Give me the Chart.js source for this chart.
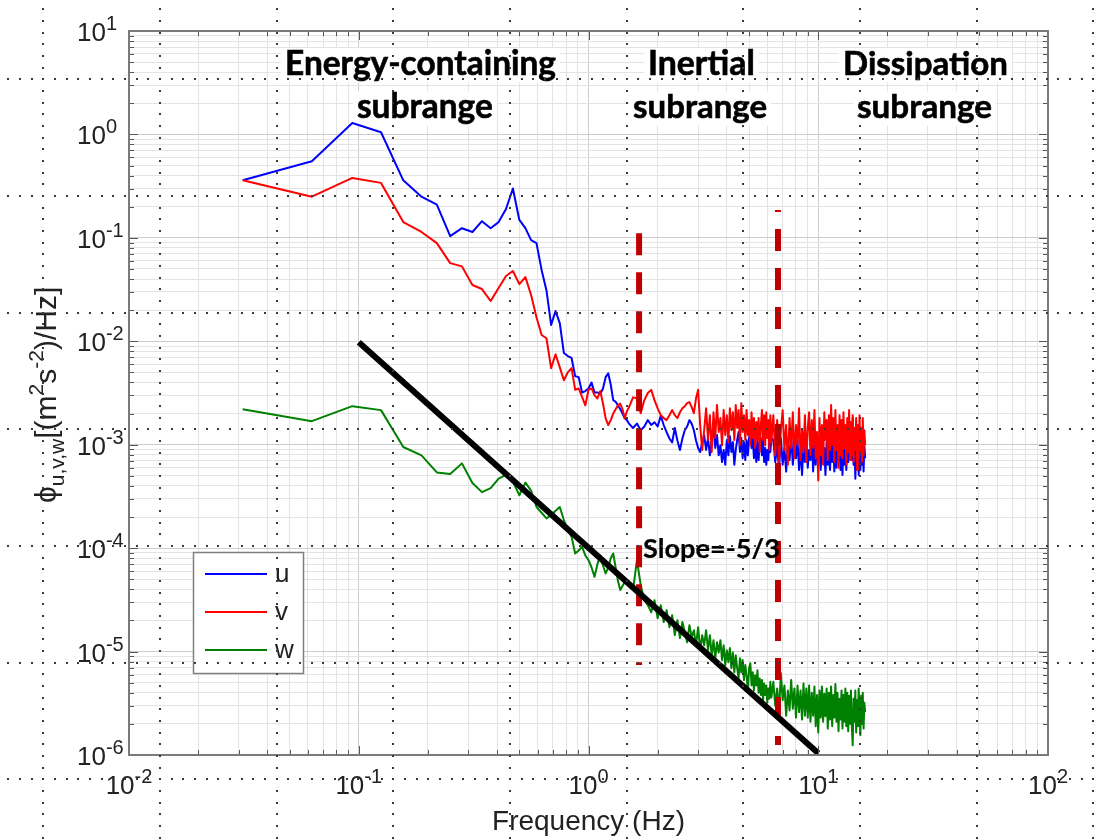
<!DOCTYPE html>
<html>
<head>
<meta charset="utf-8">
<script src="https://cdn.jsdelivr.net/npm/chart.js@4.4.1/dist/chart.umd.min.js"></script>
<style>
html,body{margin:0;padding:0;background:#fff;}
#c{display:block;}
</style>
</head>
<body>
<canvas id="c" width="1097" height="840"></canvas>
<script>
// ---------------- DATA ----------------
const binWidthHz = 1 / 32; // spectral resolution (Hz): frequency = bin * binWidthHz
const bins = [
  1,2,3,4,5,6,7,8,9,10,11,12,13,14,15,16,17,18,19,20,21,22,23,24,25,26,27,28,29,30,31,32,
  33,34,35,36,37,38,39,40,41,42,43,44,45,46,47,48,
  50,52,54,56,58,60,62,64,66,68,70,72,74,76,78,80,82,84,86,88,90,92,94,96,98,100,
  102,104,106,108,110,112,114,116,118,120,122,124,126,128,130,132,134,136,138,140,
  142,144,146,148,150,152,154,156,158,160,162,164,166,168,170,172,174,176,178,180,
  182,184,186,188,190,192,194,196,198,200,
  204,208,212,216,220,224,228,232,236,240,244,248,252,256,260,264,268,272,276,280,
  284,288,292,296,300,304,308,312,316,320,324,328,332,336,340,344,348,352,356,360,
  364,368,372,376,380,384,388,392,396,400,404,408,412,416,420,424,428,432,436,440,
  444,448,452,456,460,464,468,472,476,480,484,488,492,496,500,504,508,512
];
const uValues = [
  0.36,0.55,1.29,1.05,0.36,0.25,0.21,0.104,0.124,0.114,0.145,0.124,0.142,0.19,0.30,0.149,
  0.124,0.095,0.089,0.049,0.031,0.0144,0.0196,0.015,0.0077,0.0072,0.0069,0.0046,0.0045,0.0032,0.0033,0.0035,
  0.0040,0.0032,0.0032,0.0031,0.0035,0.0045,0.0049,0.0038,0.0027,0.0026,0.0024,0.0022,0.0020,0.0018,0.00173,0.0016,
  0.00145,0.0016,0.00138,0.0015,0.00173,0.00155,0.00165,0.0015,0.0019,0.00155,0.00132,0.00115,0.00105,
  0.00145,0.0011,0.00089,0.00115,0.00138,0.0015,0.00173,0.0016,0.00138,0.0011,0.00093,0.00085,0.00105,
  0.00124,0.00089,0.00116,0.00079,0.00111,0.00145,0.00093,0.00124,0.00079,0.00099,
  0.00068,0.00089,0.00064,0.00111,0.00079,0.00121,0.00085,0.00106,0.00064,0.00089,
  0.00111,0.00133,0.00085,0.00116,0.00074,0.00106,0.00071,0.00111,0.00079,0.00116,
  0.00138,0.00093,0.00116,0.00074,0.00099,0.00068,0.00111,0.00071,0.00106,0.00116,
  0.00079,0.00111,0.00068,0.00093,0.00064,0.00089,0.00071,0.00111,0.00085,0.00116,
  0.00111,0.00068,0.00099,0.00057,0.00116,0.00064,0.00093,0.00055,0.00106,0.00071,
  0.00124,0.00064,0.00099,0.00074,0.00111,0.00057,0.00093,0.00051,0.00099,0.00068,
  0.00116,0.0006,0.00089,0.00071,0.00124,0.00055,0.00099,0.00064,0.00111,0.00074,
  0.00099,0.00057,0.00116,0.00068,0.00093,0.00051,0.00106,0.00064,0.00089,0.00057,
  0.00111,0.00068,0.00099,0.00055,0.00116,0.0006,0.00089,0.00071,0.00106,0.00057,
  0.00093,0.00051,0.00111,0.00064,0.00099,0.00057,0.00116,0.00068,0.00138,0.00079,
  0.00155,0.00071,0.00181,0.00064,0.00111,0.00047,0.00089,0.0006,0.00099,0.00051,
  0.00106,0.00057,0.00093,0.00064,0.00116,0.00055,0.00099,0.00074
];
const vValues = [
  0.36,0.25,0.38,0.34,0.142,0.114,0.089,0.057,0.053,0.035,0.032,0.0245,0.0327,0.0428,0.0478,0.0357,
  0.0418,0.028,0.0171,0.0115,0.0107,0.0055,0.0075,0.0056,0.0042,0.0050,0.0055,0.0034,0.0035,0.0029,0.0024,0.0034,
  0.0035,0.0030,0.0028,0.0033,0.0025,0.0018,0.00155,0.00173,0.0020,0.0022,0.0024,0.0025,0.0022,0.0018,0.0021,0.0023,
  0.00287,0.00281,0.00202,0.0027,0.00316,0.00339,0.0027,0.00225,0.00193,0.00181,0.00173,0.00193,0.00216,
  0.00193,0.00181,0.00206,0.00225,0.00236,0.00252,0.00258,0.00231,0.00202,0.00281,0.00339,0.00155,0.00089,
  0.00138,0.00225,0.00111,0.00193,0.00085,0.00206,0.00116,0.00242,0.00133,0.00181,
  0.00099,0.00216,0.00124,0.00193,0.00106,0.00225,0.00138,0.00206,0.00111,0.00242,
  0.00145,0.00216,0.00099,0.00252,0.00133,0.00193,0.00111,0.00216,0.00124,0.00173,
  0.00099,0.00206,0.00116,0.00181,0.00093,0.00166,0.00111,0.00181,0.00085,0.00155,
  0.00216,0.00111,0.00193,0.00099,0.00206,0.00116,0.00173,0.00089,0.00193,0.00106,
  0.00193,0.00079,0.00173,0.00068,0.00138,0.00216,0.00089,0.00155,0.00064,0.00181,
  0.00093,0.00206,0.00074,0.00155,0.00099,0.00225,0.00071,0.00138,0.00085,0.00193,
  0.00068,0.00145,0.00206,0.00079,0.00173,0.00093,0.00216,0.00074,0.00133,0.00045,
  0.00181,0.00079,0.00155,0.00064,0.00206,0.00111,0.00173,0.00071,0.00193,0.00089,
  0.00242,0.00099,0.00181,0.00068,0.00216,0.00089,0.00155,0.0006,0.00193,0.00079,
  0.00173,0.00074,0.00206,0.00093,0.00155,0.00064,0.00181,0.00085,0.00216,0.00071,
  0.00166,0.00079,0.00193,0.00068,0.00145,0.00089,0.00181,0.00057,0.00155,0.00074,
  0.00193,0.00085,0.00145,0.00068,0.00181,0.00079,0.00138,0.00099
];
const wValues = [
  0.0022,0.00169,0.00236,0.00216,0.00095,0.00079,0.00054,0.00052,0.00066,0.000426,0.000348,0.00038,0.00047,0.00051,0.00044,0.000325,
  0.00043,0.00036,0.00025,0.00022,0.000194,0.000208,0.00023,0.00025,0.000187,0.00015,0.000129,0.0000889,0.000095,0.000103,0.000085,0.0000766,
  0.000065,0.0000528,0.00007,0.0000855,0.000068,0.0000569,0.000065,0.00008,0.0000889,0.000065,0.000048,0.0000393,0.000043,0.000047,0.000049,0.000043,
  3.93e-5,7.66e-5,4.4e-5,3.14e-5,2.81e-5,2.4e-5,3.14e-5,2.1e-5,2.81e-5,1.93e-5,2.51e-5,1.72e-5,2.25e-5,
  1.44e-5,2.01e-5,1.35e-5,1.93e-5,1.54e-5,1.23e-5,1.8e-5,1.38e-5,1.61e-5,1.15e-5,1.72e-5,1.03e-5,1.44e-5,
  1.15e-5,1.61e-5,1.03e-5,1.44e-5,9.2e-6,1.29e-5,8.6e-6,1.23e-5,9.8e-6,1.29e-5,
  8.3e-6,1.15e-5,7.4e-6,1.03e-5,7.9e-6,1.08e-5,6.9e-6,9.8e-6,6.3e-6,9.2e-6,
  6.9e-6,5.5e-6,8.6e-6,6.3e-6,8.3e-6,5.3e-6,7.4e-6,5.9e-6,4.2e-6,6.9e-6,
  7.7e-6,4.7e-6,6.3e-6,4.2e-6,5.9e-6,4.7e-6,6.6e-6,4.0e-6,5.5e-6,3.8e-6,
  5.3e-6,3.4e-6,4.9e-6,3.8e-6,4.7e-6,3.2e-6,4.4e-6,3.5e-6,5.1e-6,3.6e-6,
  5.1e-6,3.0e-6,4.4e-6,2.6e-6,6.2e-6,3.4e-6,4.7e-6,2.4e-6,4.2e-6,2.7e-6,
  5.3e-6,2.8e-6,4.4e-6,2.3e-6,4.7e-6,2.6e-6,4.2e-6,2.2e-6,4.9e-6,2.4e-6,
  4.4e-6,2.3e-6,4.7e-6,2.1e-6,4.0e-6,2.4e-6,4.6e-6,1.9e-6,3.8e-6,1.65e-6,
  4.2e-6,2.3e-6,4.6e-6,2.1e-6,3.9e-6,2.37e-6,4.4e-6,1.8e-6,4.0e-6,2.2e-6,
  4.6e-6,1.9e-6,3.8e-6,2.3e-6,4.85e-6,2.1e-6,4.0e-6,1.7e-6,3.5e-6,2.2e-6,
  4.2e-6,1.8e-6,3.8e-6,2.1e-6,4.4e-6,1.9e-6,4.0e-6,1.7e-6,3.75e-6,2.0e-6,
  4.2e-6,1.9e-6,1.24e-6,3.5e-6,2.1e-6,4.2e-6,1.65e-6,3.4e-6,1.9e-6,4.4e-6,
  2.3e-6,1.55e-6,3.75e-6,2.0e-6,4.0e-6,1.8e-6,3.2e-6,2.6e-6
];
const seriesLabels = ['u', 'v', 'w'];
const seriesColors = ['#0000ff', '#ff0000', '#008000'];

const slopeFreq = [0.1, 10];
const slopeValues = [0.0098, 1.04e-6];
const inertialStartFreq = [1.66, 1.66];
const inertialStartValues = [0.111, 7.4e-6];
const dissipationStartFreq = [6.68, 6.68];
const dissipationStartValues = [0.186, 1.25e-6];

const xDecades = [-2, -1, 0, 1, 2];
const yDecades = [-6, -5, -4, -3, -2, -1, 0, 1];
const xTitle = 'Frequency (Hz)';

const regionTexts = ['Energy-containing', 'subrange', 'Inertial', 'subrange', 'Dissipation', 'subrange', 'Slope=-5/3'];
const regionFreq  = [0.1857, 0.194, 3.10, 3.06, 29.3, 29.0, 1.726];
const regionValue = [3.75, 1.44, 3.75, 1.44, 3.75, 1.44, 8.0e-5];

// ---------------- LAYOUT / STYLE ----------------
const regionTextWidths = [271, 136, 107, 134, 165, 135, 137];

function pts(vals) { return bins.map((n, i) => ({ x: n * binWidthHz, y: vals[i] })); }
function pairPts(xs, ys) { return xs.map((x, i) => ({ x: x, y: ys[i] })); }
function makeTicks(decs) {
  const out = [];
  for (let i = 0; i < decs.length - 1; i++) {
    for (let k = 1; k <= 9; k++) out.push(Number((k * Math.pow(10, decs[i])).toPrecision(12)));
  }
  out.push(Math.pow(10, decs[decs.length - 1]));
  return out;
}
function isMajor(v) { const l = Math.log10(v); return Math.abs(l - Math.round(l)) < 1e-9; }

const ARIAL = '"Liberation Sans", Arial, Helvetica, sans-serif';
const TEXT = '#222222';
const LATO = 'Lato, "Open Sans", sans-serif';

function drawPow(ctx, e, x, baseline, align) {
  const big = '26px ' + ARIAL, small = '20px ' + ARIAL;
  ctx.font = big; const w1 = ctx.measureText('10').width;
  ctx.font = small; const w2 = ctx.measureText(String(e)).width;
  let left = x;
  if (align === 'center') left = x - (w1 + w2) / 2;
  ctx.fillStyle = TEXT; ctx.textAlign = 'left'; ctx.textBaseline = 'alphabetic';
  ctx.font = big; ctx.fillText('10', left, baseline);
  ctx.font = small; ctx.fillText(String(e), left + w1, baseline - 11);
}

function regionLayout(chart, ctx, i) {
  const t = regionTexts[i];
  const isSlope = t.indexOf('Slope') === 0;
  ctx.font = `bold 40px ${LATO}`;
  const size = 40 * regionTextWidths[i] / ctx.measureText(t).width;
  const font = `bold ${size.toFixed(2)}px ${LATO}`;
  ctx.font = font;
  const w = ctx.measureText(t).width;
  const px = chart.scales.x.getPixelForValue(regionFreq[i]);
  const py = chart.scales.y.getPixelForValue(regionValue[i]);
  const left = isSlope ? px : px - w / 2;
  return { t, isSlope, size, font, w, left, py };
}

const decorPlugin = {
  id: 'decor',
  beforeDatasetsDraw(chart) {
    // white label boxes hide grid lines only (data drawn over them)
    const ctx = chart.ctx;
    ctx.save();
    regionTexts.forEach((_, i) => {
      const L = regionLayout(chart, ctx, i);
      if (L.isSlope) return;
      ctx.fillStyle = '#ffffff';
      ctx.fillRect(L.left - 4, L.py - L.size * 0.8, L.w + 8, L.size * 1.02);
    });
    ctx.restore();
  },
  afterDatasetsDraw(chart) {
    const ctx = chart.ctx;
    ctx.save();
    regionTexts.forEach((_, i) => {
      const L = regionLayout(chart, ctx, i);
      ctx.font = L.font;
      ctx.fillStyle = '#000000';
      ctx.strokeStyle = '#000000';
      ctx.lineWidth = L.isSlope ? 0.2 : 0.6;
      ctx.textAlign = 'left'; ctx.textBaseline = 'alphabetic';
      ctx.fillText(L.t, L.left, L.py);
      ctx.strokeText(L.t, L.left, L.py);
    });
    ctx.restore();
  },
  afterDraw(chart) {
    const ctx = chart.ctx, a = chart.chartArea, xs = chart.scales.x, ys = chart.scales.y;
    ctx.save();
    // inward tick marks
    ctx.strokeStyle = '#555555'; ctx.lineWidth = 1;
    ctx.beginPath();
    xs.ticks.forEach(t => {
      const p = Math.round(xs.getPixelForValue(t.value)) + 0.5;
      const len = isMajor(t.value) ? 9 : 5;
      ctx.moveTo(p, a.bottom); ctx.lineTo(p, a.bottom - len);
      ctx.moveTo(p, a.top); ctx.lineTo(p, a.top + len);
    });
    ys.ticks.forEach(t => {
      const p = Math.round(ys.getPixelForValue(t.value)) + 0.5;
      const len = isMajor(t.value) ? 9 : 5;
      ctx.moveTo(a.left, p); ctx.lineTo(a.left + len, p);
      ctx.moveTo(a.right, p); ctx.lineTo(a.right - len, p);
    });
    ctx.stroke();
    // axes box
    ctx.strokeStyle = '#7a7a7a'; ctx.lineWidth = 2;
    ctx.strokeRect(a.left, a.top, a.right - a.left, a.bottom - a.top);

    // tick labels
    xDecades.forEach(e => drawPow(ctx, e, xs.getPixelForValue(Math.pow(10, e)), a.bottom + 39, 'center'));
    yDecades.forEach(e => drawPow(ctx, e, a.left - 52, ys.getPixelForValue(Math.pow(10, e)) + 10, 'left'));

    // x title
    ctx.fillStyle = TEXT; ctx.font = '28px ' + ARIAL; ctx.textAlign = 'center';
    ctx.fillText(xTitle, (a.left + a.right) / 2, a.bottom + 75);

    // y title (rich text, rotated, reading bottom to top)
    const parts = [
      { t: '\u03D5', s: 30, dy: 0 },
      { t: 'u,v,w', s: 21, dy: 8 },
      { t: '[(m', s: 30, dy: 0 },
      { t: '2', s: 21, dy: -13 },
      { t: 's', s: 30, dy: 0 },
      { t: '-2', s: 21, dy: -13 },
      { t: ')/Hz]', s: 30, dy: 0 }
    ];
    ctx.save();
    ctx.translate(56, 503);
    ctx.rotate(-Math.PI / 2);
    ctx.textAlign = 'left'; ctx.fillStyle = TEXT;
    let cx = 0;
    parts.forEach(p => {
      ctx.font = p.s + 'px ' + ARIAL;
      ctx.fillText(p.t, cx, p.dy);
      cx += ctx.measureText(p.t).width;
    });
    ctx.restore();

    // legend
    const lx = 193, ly = 552, lw = 110, lh = 121;
    ctx.fillStyle = '#ffffff'; ctx.fillRect(lx, ly, lw, lh);
    ctx.strokeStyle = '#808080'; ctx.lineWidth = 1.5; ctx.strokeRect(lx + 0.5, ly + 0.5, lw, lh);
    seriesLabels.forEach((lab, i) => {
      const yy = ly + 22 + i * 38;
      ctx.strokeStyle = chart.data.datasets[i].borderColor; ctx.lineWidth = 2;
      ctx.beginPath(); ctx.moveTo(lx + 12, yy); ctx.lineTo(lx + 74, yy); ctx.stroke();
      ctx.fillStyle = TEXT; ctx.font = '26px ' + ARIAL; ctx.textAlign = 'left';
      ctx.fillText(lab, lx + 82, yy + 8);
    });

    // dotted alignment grid overlay (as in the source picture)
    const step = 116.67 / 10, x0 = 8.3, y0 = 9.3;
    ctx.fillStyle = '#3a3a3a';
    for (let i = 0; ; i++) {
      const gx = x0 + step * (3 + 10 * i); if (gx > chart.width) break;
      for (let y = y0; y < chart.height; y += step) ctx.fillRect(Math.round(gx) - 1, Math.round(y) - 1, 2, 2);
    }
    for (let i = 0; ; i++) {
      const gy = y0 + step * (6 + 10 * i); if (gy > chart.height) break;
      for (let x = x0; x < chart.width; x += step) ctx.fillRect(Math.round(x) - 1, Math.round(gy) - 1, 2, 2);
    }
    ctx.restore();
  }
};

const gridColor = c => (c.tick && isMajor(c.tick.value)) ? '#cdcdcd' : '#e4e4e4';

new Chart(document.getElementById('c').getContext('2d'), {
  type: 'line',
  data: {
    datasets: [
      { label: seriesLabels[0], data: pts(uValues), borderColor: seriesColors[0], borderWidth: 2, order: 6 },
      { label: seriesLabels[1], data: pts(vValues), borderColor: seriesColors[1], borderWidth: 2, order: 5 },
      { label: seriesLabels[2], data: pts(wValues), borderColor: seriesColors[2], borderWidth: 2, order: 4 },
      { label: 'inertial start', data: pairPts(inertialStartFreq, inertialStartValues), borderColor: '#c00000', borderWidth: 6, borderDash: [22, 17], borderDashOffset: 0, borderCapStyle: 'butt', order: 3 },
      { label: 'dissipation start', data: pairPts(dissipationStartFreq, dissipationStartValues), borderColor: '#c00000', borderWidth: 6, borderDash: [22, 17], borderDashOffset: 20, borderCapStyle: 'butt', order: 2 },
      { label: 'slope -5/3', data: pairPts(slopeFreq, slopeValues), borderColor: '#000000', borderWidth: 6, borderCapStyle: 'butt', order: 1 }
    ]
  },
  options: {
    responsive: false,
    animation: false,
    devicePixelRatio: 1,
    layout: { padding: { left: 129, top: 31, right: 49, bottom: 85 } },
    elements: { point: { radius: 0 }, line: { tension: 0, borderJoinStyle: 'round', fill: false } },
    plugins: { legend: { display: false }, tooltip: { enabled: false } },
    scales: {
      x: {
        type: 'logarithmic', min: 0.01, max: 100,
        afterBuildTicks: s => { s.ticks = makeTicks(xDecades).map(v => ({ value: v, major: isMajor(v) })); },
        ticks: { display: false },
        grid: { color: gridColor, drawTicks: false, lineWidth: 1 },
        border: { display: false }
      },
      y: {
        type: 'logarithmic', min: 1e-6, max: 10,
        afterBuildTicks: s => { s.ticks = makeTicks(yDecades).map(v => ({ value: v, major: isMajor(v) })); },
        ticks: { display: false },
        grid: { color: gridColor, drawTicks: false, lineWidth: 1 },
        border: { display: false }
      }
    }
  },
  plugins: [decorPlugin]
});
</script>
</body>
</html>
